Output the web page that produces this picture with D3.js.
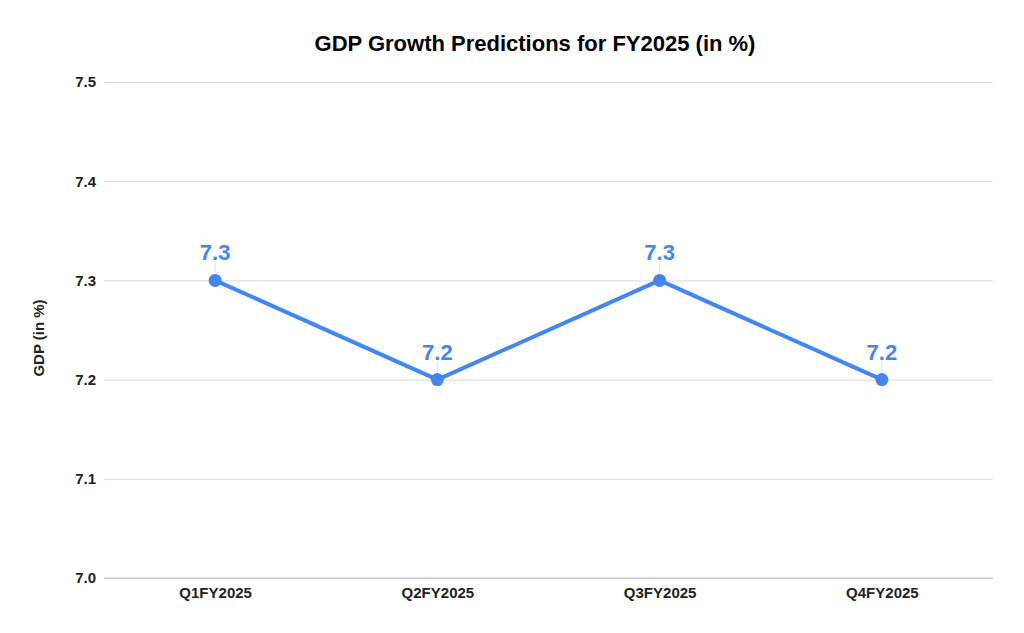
<!DOCTYPE html>
<html>
<head>
<meta charset="utf-8">
<script src="https://cdn.jsdelivr.net/npm/d3@7"></script>
<style>
  body { margin: 0; background: #fff; }
  text { font-family: "Liberation Sans", Arial, sans-serif; }
</style>
</head>
<body>
<svg id="chart" width="1024" height="633"></svg>
<script>
const quarters = ['Q1FY2025', 'Q2FY2025', 'Q3FY2025', 'Q4FY2025'];
const gdp = [7.3, 7.2, 7.3, 7.2];
const yTicks = [7.0, 7.1, 7.2, 7.3, 7.4, 7.5];

const svg = d3.select('#chart');
const margin = { top: 82, right: 31, bottom: 55, left: 104 };
const width = 1024 - margin.left - margin.right;
const height = 633 - margin.top - margin.bottom;
const blue = '#4285f4';

const g = svg.append('g').attr('transform', `translate(${margin.left},${margin.top})`);

const x = d3.scalePoint().domain(quarters).range([0, width]).padding(0.5);
const y = d3.scaleLinear().domain([7.0, 7.5]).range([height, 0]);

// gridlines
g.append('g')
  .call(d3.axisLeft(y).tickValues(yTicks).tickSize(-width).tickFormat(d3.format('.1f')).tickPadding(8))
  .call(ax => ax.select('.domain').remove())
  .call(ax => ax.selectAll('.tick line').attr('stroke', '#d9d9d9').attr('stroke-width', 1))
  .call(ax => ax.selectAll('.tick text')
    .attr('fill', '#222').attr('font-size', 15).attr('font-weight', 'bold')
    .attr('font-family', '"Liberation Sans", Arial, sans-serif'));

// baseline
g.append('line')
  .attr('x1', 0).attr('x2', width)
  .attr('y1', y(7.0)).attr('y2', y(7.0))
  .attr('stroke', '#bdbdbd');

g.append('g')
  .attr('transform', `translate(0,${height})`)
  .call(d3.axisBottom(x).tickSize(0).tickPadding(9))
  .call(ax => ax.select('.domain').remove())
  .call(ax => ax.selectAll('.tick text')
    .attr('fill', '#222').attr('font-size', 15).attr('font-weight', 'bold')
    .attr('font-family', '"Liberation Sans", Arial, sans-serif'));

const pts = quarters.map((q, i) => ({ q, v: gdp[i] }));

g.append('path')
  .datum(pts)
  .attr('fill', 'none')
  .attr('stroke', blue)
  .attr('stroke-width', 4)
  .attr('stroke-linejoin', 'round')
  .attr('d', d3.line().x(d => x(d.q)).y(d => y(d.v)));

// leader ticks
g.selectAll('.leader')
  .data(pts)
  .join('line')
  .attr('x1', d => x(d.q)).attr('x2', d => x(d.q))
  .attr('y1', d => y(d.v) - 18).attr('y2', d => y(d.v) - 6)
  .attr('stroke', '#e0e0e0');

g.selectAll('.dot')
  .data(pts)
  .join('circle')
  .attr('cx', d => x(d.q))
  .attr('cy', d => y(d.v))
  .attr('r', 6.5)
  .attr('fill', blue);

g.selectAll('.label')
  .data(pts)
  .join('text')
  .attr('x', d => x(d.q))
  .attr('y', d => y(d.v) - 20)
  .attr('text-anchor', 'middle')
  .attr('font-size', 22)
  .attr('font-weight', 'bold')
  .attr('fill', blue)
  .text(d => d3.format('.1f')(d.v));

svg.append('text')
  .attr('x', 535)
  .attr('y', 51)
  .attr('text-anchor', 'middle')
  .attr('font-size', 22)
  .attr('font-weight', 'bold')
  .attr('fill', '#000')
  .text('GDP Growth Predictions for FY2025 (in %)');

svg.append('text')
  .attr('transform', `translate(44,${338}) rotate(-90)`)
  .attr('text-anchor', 'middle')
  .attr('font-size', 15)
  .attr('font-weight', 'bold')
  .attr('fill', '#222')
  .text('GDP (in %)');
</script>
</body>
</html>
